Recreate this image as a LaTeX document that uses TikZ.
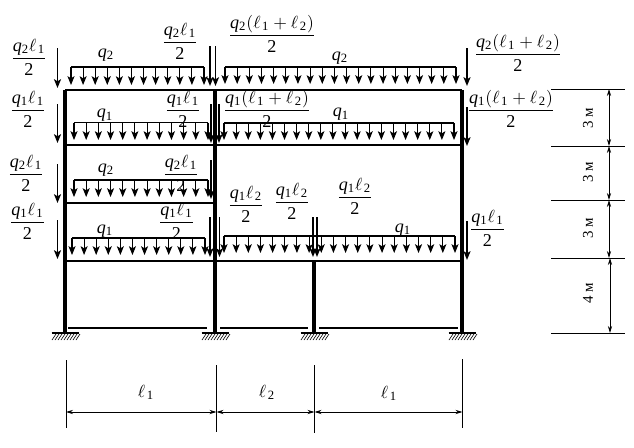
\documentclass[tikz,border=0pt]{standalone}
\usepackage{amsmath}
\usepackage{fontspec}
\setmainfont{Liberation Serif}
\usetikzlibrary{arrows.meta}

\newcommand{\qa}{\mathit{q}_{\mathrm{1}}}
\newcommand{\qb}{\mathit{q}_{\mathrm{2}}}
\newcommand{\la}{\ell_{\mkern2mu\mathrm{1}}}
\newcommand{\lb}{\ell_{\mkern2mu\mathrm{2}}}
\newcommand{\half}[1]{$\dfrac{#1}{\mathrm{2}}$}
\newcommand{\suma}[1]{#1\mathrm{(}\la+\lb\mathrm{)}}

\tikzset{
	>={Stealth[length=5pt,width=4pt,inset=1.2pt]},
	col/.style={line width=1.8pt},
	beam/.style={line width=1.6pt},
	force/.style={->,line width=1pt},
	thin load/.style={line width=0.6pt},
	dimline/.style={line width=0.5pt},
	dimarrow/.style={{Stealth[length=4pt,width=2.4pt]}-{Stealth[length=4pt,width=2.4pt]},line width=0.5pt},
	fracnode/.style={anchor=base,inner sep=0pt,yshift=-2.4pt,font=\fontsize{10.3}{12}\selectfont},
	qnode/.style={anchor=base,inner sep=0pt,font=\fontsize{10.3}{12}\selectfont},
	dimtext/.style={rotate=90,inner sep=0pt,font=\fontsize{8.5}{10}\selectfont}
}

% distributed load: x1, x2, top, tips, arrows
\newcommand{\uload}[5]{
	\draw[thin load] (#1,#3) -- (#2,#3);
	\pgfmathsetmacro\loadStep{(#2-#1)/(#5-1)}
	\foreach \i in {1,...,#5}{
		\pgfmathsetmacro\loadX{#1+(\i-1)*\loadStep}
		\draw[->,thin load] (\loadX,#3) -- (\loadX,#4);
	}
}
% fixed support under a column
\newcommand{\support}[1]{
	\begin{scope}[shift={(#1)}]
		\draw[line width=1pt] (-13.5,0) -- (13.5,0);
		\foreach \i in {0,...,8}
			\draw[line width=0.35pt] (-13+3*\i,7) -- (-9+3*\i,1);
	\end{scope}
}

\begin{document}
\begin{tikzpicture}[x=0.2mm,y=-0.2mm]
	\useasboundingbox (0,0) rectangle (634,448);

	\coordinate (a0) at (65,90);    \coordinate (a4) at (65,333);
	\coordinate (b0) at (215,90);   \coordinate (b4) at (215,333);
	\coordinate (c3) at (314,261);  \coordinate (c4) at (314,333);
	\coordinate (d0) at (462,90);   \coordinate (d4) at (462,333);

	% frame
	\draw[col] (a0) -- (a4);
	\draw[col] (b0) -- (b4);
	\draw[col] (c3) -- (c4);
	\draw[col] (d0) -- (d4);
	\draw[beam] (a0) -- (d0);
	\draw[beam] (65,145) -- (462,145);
	\draw[beam] (65,203) -- (215,203);
	\draw[beam] (65,261) -- (462,261);
	\draw[beam] (68,328) -- (207,328);
	\draw[beam] (220,328) -- (308,328);
	\draw[beam] (319,328) -- (458,328);

	\support{a4}
	\support{b4}
	\support{c4}
	\support{d4}

	% distributed loads
	\uload{71}{204}{67}{85}{12}
	\uload{225}{456}{67}{84}{20}
	\uload{74}{208}{122.5}{140}{12}
	\uload{224}{454}{123}{140}{20}
	\uload{74}{208}{180}{197}{12}
	\uload{72}{205}{238}{255}{12}
	\uload{224}{455}{236}{253}{20}

	% point forces
	\foreach \x/\yA/\yB in {57.5/48/88, 57.5/104/143, 57.5/164/203, 57.5/220/259,
		210/46/86, 215.5/46/86, 211/104/143, 219/104/143, 211/160/199,
		210/217/257, 219.5/217/257, 313/217/257, 317/217/257,
		467/48/86, 467/107/146, 467/221/260}
		\draw[force] (\x,\yA) -- (\x,\yB);

	% load labels
	\node[qnode] (qroofL) at (106,57) {$\qb$};
	\node[qnode] (qroofR) at (340,60) {$\qb$};
	\node[qnode] (qsecL) at (105,118) {$\qa$};
	\node[qnode] (qsecR) at (341,117) {$\qa$};
	\node[qnode] (qthL) at (106,172) {$\qb$};
	\node[qnode] (qfoL) at (105,233) {$\qa$};
	\node[qnode] (qfoR) at (403,232) {$\qa$};

	\node[fracnode] (f1) at (29,59) {\half{\qb\la}};
	\node[fracnode] (f2) at (180,43) {\half{\qb\la}};
	\node[fracnode] (f3) at (272,36) {\half{\suma{\qb}}};
	\node[fracnode] (f4) at (518,55) {\half{\suma{\qb}}};
	\node[fracnode] (f5) at (28,111) {\half{\qa\la}};
	\node[fracnode] (f6) at (183,111) {\half{\qa\la}};
	\node[fracnode] (f7) at (267,111) {\half{\suma{\qa}}};
	\node[fracnode] (f8) at (511,111) {\half{\suma{\qa}}};
	\node[fracnode] (f9) at (26,175) {\half{\qb\la}};
	\node[fracnode] (f10) at (181,175) {\half{\qb\la}};
	\node[fracnode] (f11) at (27.5,223) {\half{\qa\la}};
	\node[fracnode] (f12) at (176.5,223) {\half{\qa\la}};
	\node[fracnode] (f13) at (246,206) {\half{\qa\lb}};
	\node[fracnode] (f14) at (292,203) {\half{\qa\lb}};
	\node[fracnode] (f15) at (355,198) {\half{\qa\lb}};
	\node[fracnode] (f16) at (487.5,230) {\half{\qa\la}};

	% dimensions below
	\draw[dimline] (66,360) -- (66,428);
	\draw[dimline] (216.5,365) -- (216.5,432);
	\draw[dimline] (314.5,365) -- (314.5,433);
	\draw[dimline] (462.5,359) -- (462.5,428);
	\coordinate (w0) at (66,412);
	\coordinate (w1) at (216.5,412);
	\coordinate (w2) at (314.5,412);
	\coordinate (w3) at (462.5,412);
	\draw[dimarrow] (w0) -- (w1);
	\draw[dimarrow] (w1) -- (w2);
	\draw[dimarrow] (w2) -- (w3);
	\node[qnode] (wl1) at (146,397) {$\la$};
	\node[qnode] (wl2) at (267,397) {$\lb$};
	\node[qnode] (wl3) at (389,398) {$\la$};

	% dimensions on the right
	\foreach \y in {89,146,200,258,333}
		\draw[dimline] (551,\y) -- (625,\y);
	\coordinate (h0) at (609,89);
	\coordinate (h1) at (609,146);
	\coordinate (h2) at (609,200);
	\coordinate (h3) at (609,258);
	\coordinate (h4) at (610,258);
	\coordinate (h5) at (610,333);
	\draw[dimarrow] (h0) -- (h1);
	\draw[dimarrow] (h1) -- (h2);
	\draw[dimarrow] (h2) -- (h3);
	\draw[dimarrow] (h4) -- (h5);
	\node[dimtext] (hl1) at (588,118) {3 м};
	\node[dimtext] (hl2) at (588,172) {3 м};
	\node[dimtext] (hl3) at (588,228) {3 м};
	\node[dimtext] (hl4) at (588,293) {4 м};
\end{tikzpicture}
\end{document}
